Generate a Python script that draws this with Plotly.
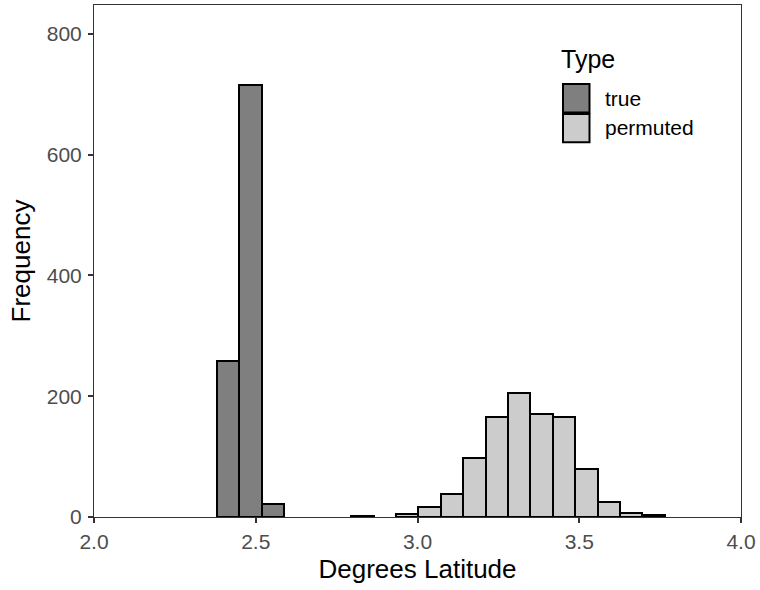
import plotly.graph_objects as go

# Histogram bins (shared across groups)
bin_start = 2.380
bin_width = 0.0692

# counts per bin index
true_bins = [0, 1, 2]
true_counts = [259, 715, 22]

perm_bins = [6, 8, 9, 10, 11, 12, 13, 14, 15, 16, 17, 18, 19]
perm_counts = [1, 5, 17, 38, 97, 165, 206, 171, 166, 79, 25, 7, 3]

x_ticks = [2.0, 2.5, 3.0, 3.5, 4.0]
y_ticks = [0, 200, 400, 600, 800]

series_names = ["true", "permuted"]
series_colors = ["#7f7f7f", "#cccccc"]

FONT = "Liberation Sans, Arial, sans-serif"

def centers(idx):
    return [bin_start + bin_width * (i + 0.5) for i in idx]

fig = go.Figure()
for name, idx, cnt, col in [
    (series_names[0], true_bins, true_counts, series_colors[0]),
    (series_names[1], perm_bins, perm_counts, series_colors[1]),
]:
    fig.add_trace(go.Bar(
        x=centers(idx), y=cnt, width=[bin_width] * len(idx), name=name,
        marker=dict(color=col, line=dict(color="black", width=2)),
        showlegend=False,
    ))

# Custom legend (ggplot-like keys)
L, R, T, B = 94, 741, 5, 517.5
def px(xp):
    return (xp - L) / (R - L)
def py(yp):
    return (B - yp) / (B - T)

key_boxes = [(84, 112.5), (114, 142.5)]
label_y = [99, 128]
for (top, bot), col, name, ly in zip(key_boxes, series_colors, series_names, label_y):
    fig.add_shape(type="rect", xref="paper", yref="paper",
                  x0=px(563), x1=px(589.5), y0=py(bot), y1=py(top),
                  fillcolor=col, line=dict(color="black", width=2))
    fig.add_annotation(xref="paper", yref="paper", x=px(603), y=py(ly),
                       xanchor="left", yanchor="middle", text=name, showarrow=False,
                       font=dict(family=FONT, size=21, color="black"))
fig.add_annotation(xref="paper", yref="paper", x=px(559), y=py(59),
                   xanchor="left", yanchor="middle", text="Type", showarrow=False,
                   font=dict(family=FONT, size=25, color="black"))

fig.update_layout(
    width=760, height=590,
    margin=dict(l=L, r=760 - R, t=T, b=590 - B),
    paper_bgcolor="white", plot_bgcolor="white",
    barmode="overlay", bargap=0,
    font=dict(family=FONT),
)
fig.update_xaxes(
    range=[2, 4], tickvals=x_ticks, tickformat=".1f",
    ticks="outside", ticklen=5, tickwidth=1.5, tickcolor="#333333",
    showline=True, mirror=True, linecolor="#333333", linewidth=1,
    showgrid=False, zeroline=False, ticklabelstandoff=1,
    tickfont=dict(family=FONT, size=21, color="#4d4d4d"),
    title=dict(text="Degrees Latitude", font=dict(family=FONT, size=26, color="black"), standoff=7),
    automargin=False,
)
fig.update_yaxes(
    range=[0, 848], tickvals=y_ticks,
    ticks="outside", ticklen=5, tickwidth=1.5, tickcolor="#333333",
    showline=True, mirror=True, linecolor="#333333", linewidth=1,
    showgrid=False, zeroline=False, ticklabelstandoff=2,
    tickfont=dict(family=FONT, size=21, color="#4d4d4d"),
    title=dict(text="Frequency", font=dict(family=FONT, size=26, color="black"), standoff=8),
    automargin=False,
)

fig.write_html("out.html")
